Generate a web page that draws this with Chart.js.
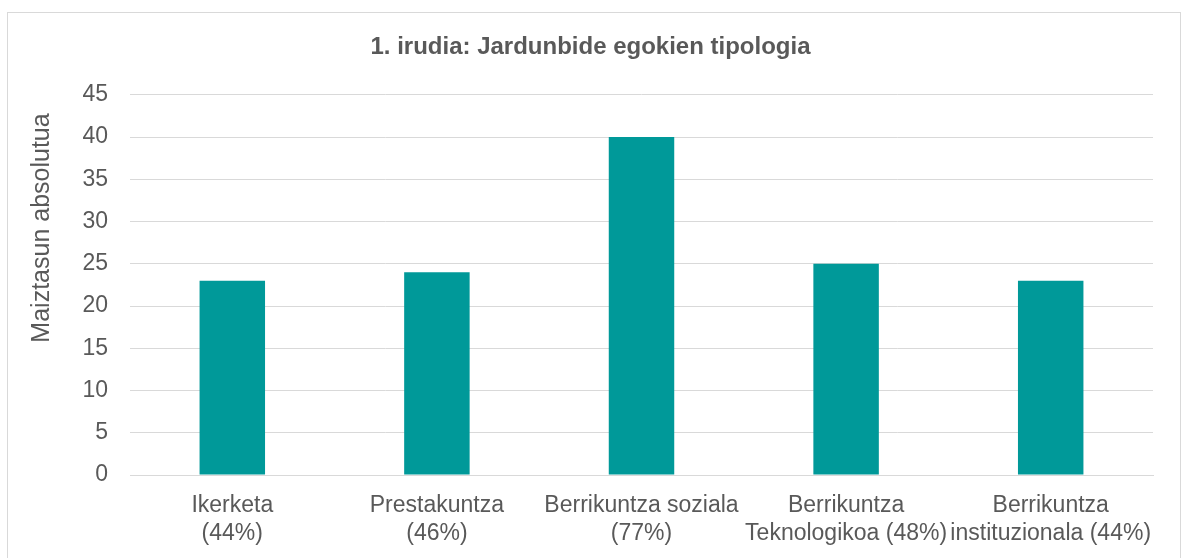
<!DOCTYPE html>
<html>
<head>
<meta charset="utf-8">
<script src="https://cdn.jsdelivr.net/npm/chart.js@4/dist/chart.umd.min.js"></script>
<style>
  html, body { margin: 0; padding: 0; background: #fff; }
  #wrap { position: relative; width: 1188px; height: 558px; }
  #frame { position: absolute; left: 7px; top: 12px; width: 1174px; height: 560px; border: 1px solid #d9d9d9; box-sizing: border-box; }
  canvas { position: absolute; left: 0; top: 0; }
</style>
</head>
<body>
<div id="wrap">
  <div id="frame"></div>
  <canvas id="c" width="1188" height="558"></canvas>
</div>
<script>
// --- datuak ---
const categories = [
  ['Ikerketa', '(44%)'],
  ['Prestakuntza', '(46%)'],
  ['Berrikuntza soziala', '(77%)'],
  ['Berrikuntza', 'Teknologikoa (48%)'],
  ['Berrikuntza', 'instituzionala (44%)'],
];
const values = [23, 24, 40, 25, 23];
const yTicks = [0, 5, 10, 15, 20, 25, 30, 35, 40, 45];
const yTitle = 'Maiztasun absolutua';

const txt = '#595959';
const grid = '#d9d9d9';
const fontFamily = "'Liberation Sans', Arial, sans-serif";
Chart.defaults.font.family = fontFamily;

// Excel-en antzera, ardatz-izenburua ez dago erdian zentratuta
const yTitlePlugin = {
  id: 'yTitle',
  afterDraw(chart) {
    const ctx = chart.ctx;
    ctx.save();
    ctx.translate(42, 228);
    ctx.rotate(-Math.PI / 2);
    ctx.font = `25px ${fontFamily}`;
    ctx.fillStyle = txt;
    ctx.textAlign = 'center';
    ctx.textBaseline = 'middle';
    ctx.fillText(yTitle, 0, 0);
    ctx.restore();
  },
};

new Chart(document.getElementById('c'), {
  type: 'bar',
  data: {
    labels: categories,
    datasets: [{
      data: values,
      backgroundColor: '#009999',
      borderWidth: 0,
      barPercentage: 0.32,
      categoryPercentage: 1,
    }],
  },
  options: {
    responsive: false,
    animation: false,
    layout: { padding: { left: 28, right: 35, top: 12, bottom: 0 } },
    plugins: {
      legend: { display: false },
      tooltip: { enabled: false },
      title: {
        display: true,
        text: '1. irudia: Jardunbide egokien tipologia',
        color: txt,
        font: { size: 24, weight: 'bold' },
        padding: { top: 21, bottom: 33 },
      },
    },
    scales: {
      x: {
        grid: { display: false, drawTicks: false },
        border: { color: grid, width: 1 },
        ticks: { color: txt, font: { size: 23 }, maxRotation: 0, autoSkip: false, padding: 17 },
        afterFit: (s) => { s.height = 83; },
      },
      y: {
        min: 0, max: 45,
        afterBuildTicks: (s) => { s.ticks = yTicks.map((v) => ({ value: v })); },
        afterFit: (s) => { s.width = 102; },
        grid: { color: grid, lineWidth: 1, drawTicks: false },
        border: { display: false },
        ticks: { color: txt, font: { size: 23 }, padding: 22 },
      },
    },
  },
  plugins: [yTitlePlugin],
});
</script>
</body>
</html>
